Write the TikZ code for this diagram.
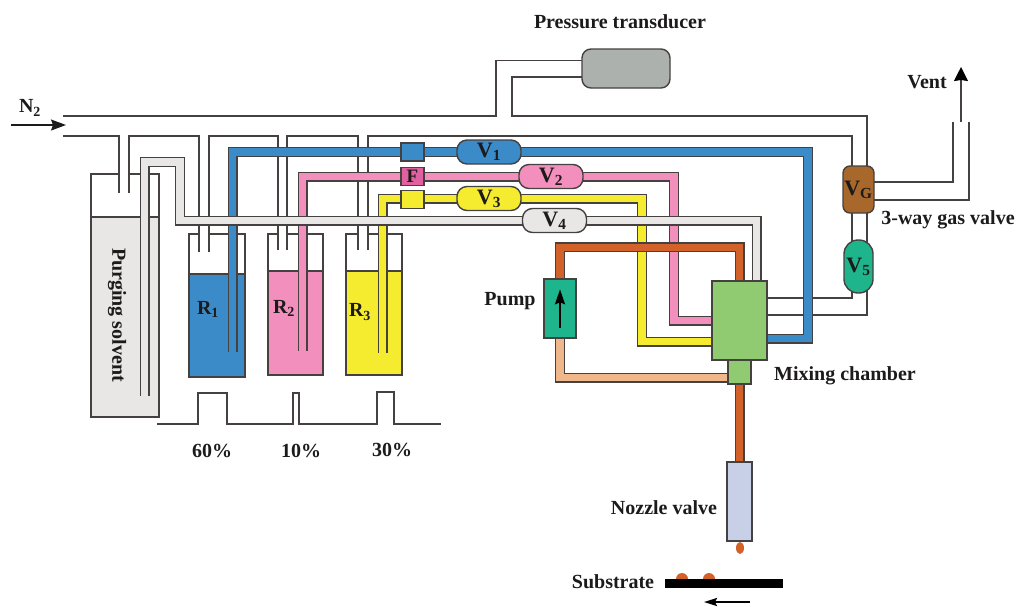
\documentclass[tikz,border=0pt]{standalone}
\usepackage{fontspec}
\setmainfont{Liberation Serif}
\usetikzlibrary{arrows.meta,backgrounds}
\definecolor{linegray}{HTML}{454140}
\definecolor{textblack}{HTML}{1C1A1A}
\definecolor{fluidblue}{HTML}{3C8BC9}
\definecolor{fluidpink}{HTML}{F38FBD}
\definecolor{fluidyellow}{HTML}{F5EC30}
\definecolor{fluidgray}{HTML}{E9E7E5}
\definecolor{fluidorange}{HTML}{D2622A}
\definecolor{fluidpeach}{HTML}{F0B88A}
\definecolor{mixgreen}{HTML}{90CB72}
\definecolor{pumpgreen}{HTML}{1FB58C}
\definecolor{valvebrown}{HTML}{A8682C}
\definecolor{gaugegray}{HTML}{ADB1AE}
\definecolor{nozzleblue}{HTML}{C8D0E8}
\definecolor{filterpink}{HTML}{E060A0}
\tikzset{
  caption/.style={font=\fontsize{20}{22}\selectfont\bfseries,text=textblack,inner sep=0pt},
  valve/.style={draw=linegray,line width=1.4pt,rounded corners=10pt,minimum width=64pt,minimum height=24pt,inner sep=0pt,
    font=\fontsize{22}{22}\selectfont\bfseries,text=textblack},
  filterbox/.style={draw=linegray,line width=1.4pt,minimum width=23pt,minimum height=18pt,inner sep=0pt,
    font=\fontsize{19}{20}\selectfont\bfseries,text=textblack},
  block/.style={draw=linegray,line width=1.4pt,inner sep=0pt},
  tube/.style={draw=linegray,line width=1.4pt},
  vessel/.style={draw=linegray,line width=1.6pt},
  pipe/.style={draw=linegray,line width=1.4pt,double=#1,double distance=7.2pt},
}
\begin{document}
\begin{tikzpicture}[x=1pt,y=-1pt]
\useasboundingbox (0,0) rectangle (1016,606);
% labels
\node[caption] (pressurelabel) at (620,22) {Pressure transducer};
\node[caption] (N2label) at (30,108) {N\textsubscript{2}};
\node[caption] (ventlabel) at (927,82) {Vent};
\node[caption] (gasvalvelabel) at (948,220) {3-way gas valve};
\node[caption] (mixinglabel) at (845,376) {Mixing chamber};
\node[caption] (pumplabel) at (510,301) {Pump};
\node[caption] (nozzlelabel) at (664,508) {Nozzle valve};
\node[caption] (substratelabel) at (613,582) {Substrate};
\node[caption] (percentA) at (212,451) {60\%};
\node[caption] (percentB) at (301,451) {10\%};
\node[caption] (percentC) at (392,450) {30\%};
% valves and boxes
\node[valve,fill=fluidblue] (V1) at (489,152) {V\textsubscript{1}};
\node[valve,fill=fluidpink] (V2) at (551,176.5) {V\textsubscript{2}};
\node[valve,fill=fluidyellow] (V3) at (489,198.5) {V\textsubscript{3}};
\node[valve,fill=fluidgray] (V4) at (554.5,220.5) {V\textsubscript{4}};
\node[valve,fill=pumpgreen,rounded corners=14pt,minimum width=29pt,minimum height=53pt] (V5) at (858.5,266.5) {V\textsubscript{5}};
\node[valve,fill=valvebrown,rounded corners=7pt,minimum width=31pt,minimum height=47pt] (VG) at (858.5,189.5) {V\textsubscript{G}};
\node[filterbox,fill=fluidblue] (bluebox) at (412.5,152) {};
\node[filterbox,fill=filterpink] (F) at (412.5,176.5) {F};
\node[filterbox,fill=fluidyellow] (yellowbox) at (412.5,199.5) {};
\node[block,fill=gaugegray,rounded corners=9pt,minimum width=88pt,minimum height=39pt] (transducer) at (626,68.5) {};
\node[block,fill=mixgreen,minimum width=55pt,minimum height=79pt] (mixer) at (739.5,320.5) {};
\node[block,fill=mixgreen,minimum width=23pt,minimum height=24pt] (neck) at (739.5,372) {};
\node[block,fill=pumpgreen,minimum width=32pt,minimum height=59pt] (pump) at (560,308.5) {};
\node[block,fill=nozzleblue,minimum width=25pt,minimum height=79pt] (nozzle) at (739.5,501.5) {};
\node[fill=black,inner sep=0pt,minimum width=118pt,minimum height=9pt] (substrate) at (724,583.5) {};
\node[caption,rotate=-90] (purgelabel) at (117,315) {Purging solvent};
\node[caption] (R1) at (208,309) {R\textsubscript{1}};
\node[caption] (R2) at (284,308) {R\textsubscript{2}};
\node[caption] (R3) at (360,312) {R\textsubscript{3}};
% arrows
\coordinate (N2from) at (11,125);
\coordinate (N2to) at (66,125);
\coordinate (ventfrom) at (961,122);
\coordinate (ventto) at (961,67);
\coordinate (webfrom) at (750,602);
\coordinate (webto) at (704,602);
\draw[line width=1.5pt,draw=textblack,-{Stealth[length=15pt,width=11pt,inset=2pt]}] (N2from) -- (N2to);
\draw[line width=1.5pt,draw=linegray,-{Stealth[length=14pt,width=14pt,inset=1pt,black]}] (ventfrom) -- (ventto);
\draw[line width=2pt,-{Stealth[length=13pt,width=8pt,inset=2pt]}] (webfrom) -- (webto);
\draw[line width=2pt,-{Stealth[length=15pt,width=10pt,inset=2pt]}] ([yshift=11pt]pump.south) -- ([yshift=-11pt]pump.north);
\begin{scope}[on background layer]
% gas lines
\draw[tube] (63,116) -- (496,116) |- (582,60.5);
\draw[tube] (582,77) -| (512,116) -- (867,116) -- (867,315) -- (767,315);
\draw[tube] (63,136) -| (119,193);
\draw[tube] (129,193) |- (199,136) -- (199,252);
\draw[tube] (209,252) |- (278,136) -- (278,250);
\draw[tube] (287,250) |- (358,136) -- (358,250);
\draw[tube] (368,250) |- (852,136) -- (852,298) -- (767,298);
\draw[tube] (874,182) -| (953,122);
\draw[tube] (874,200) -| (969,122);
% bottles
\filldraw[vessel,fill=fluidgray] (91,217) rectangle (159,417);
\draw[vessel] (119,174) -| (91,217) (159,217) |- (129,174);
\filldraw[vessel,fill=fluidblue] (189,274) rectangle (245,377);
\draw[vessel] (199,234) -| (189,274) (245,274) |- (209,234);
\filldraw[vessel,fill=fluidpink] (268,271) rectangle (323,375);
\draw[vessel] (278,234) -| (268,271) (323,271) |- (287,234);
\filldraw[vessel,fill=fluidyellow] (346,271) rectangle (402,375);
\draw[vessel] (358,234) -| (346,271) (402,271) |- (368,234);
% pulses
\draw[tube] (157,424) -- (198,424) -- (198,393) -- (227,393) -- (227,424) -- (293,424) -- (293,393) -- (299,393) -- (299,424) -- (377,424) -- (377,392) -- (394,392) -- (394,424) -- (441,424);
% liquid pipes
\draw[pipe=fluidyellow] (382.5,353) |- (642,198.5) |- (mixer.west |- 0,341.5);
\draw[pipe=fluidpink] (302.5,351) |- (674,176.5) |- (mixer.west |- 0,320.5);
\draw[pipe=fluidblue] (232.5,352) |- (808,152) |- (mixer.east |- 0,338.5);
\draw[pipe=fluidpeach] (pump.south) |- (neck.west |- 0,377.5);
\draw[pipe=fluidorange] (pump.north) -- ++(0,-31) -| (mixer.north);
\draw[pipe=fluidorange] (neck.south) -- (nozzle.north);
\draw[pipe=fluidgray] (144.5,396) |- (180,162) |- (756.5,220.5) -- (mixer.north -| 756.5,0);
% drops
\fill[fluidorange] (740,548) ellipse (4 and 6);
\fill[fluidorange] (682,579) circle (6);
\fill[fluidorange] (709,579) circle (6);
\end{scope}
\end{tikzpicture}
\end{document}
